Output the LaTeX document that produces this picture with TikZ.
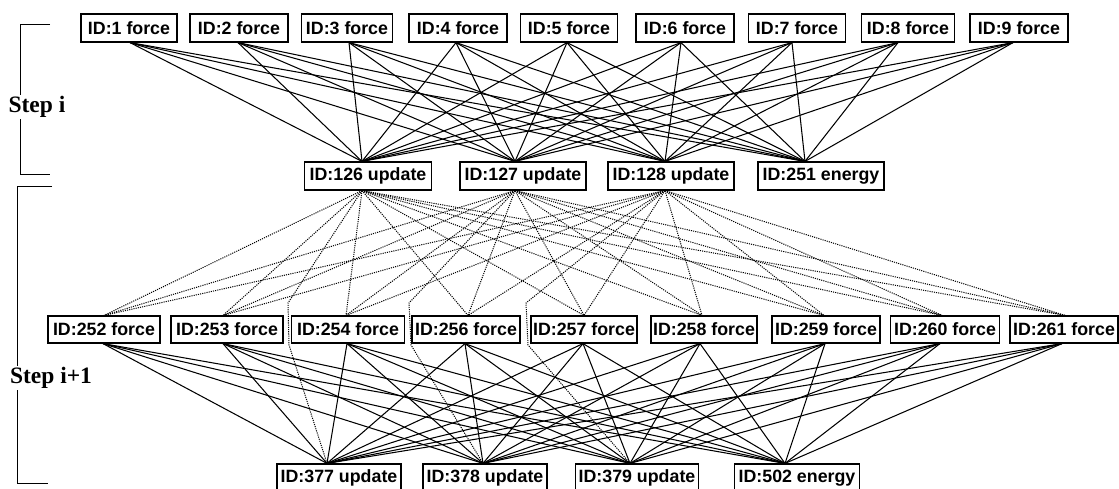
\documentclass[tikz,border=0pt]{standalone}
\usepackage{fontspec}
\newfontfamily\lblfont{Liberation Sans}
\newfontfamily\stepfont{Liberation Serif}
\begin{document}
\begin{tikzpicture}[x=1pt,y=-1pt,
  box/.style={draw, line width=1.2pt, minimum height=28pt, inner sep=0pt,
    font=\lblfont\bfseries\fontsize{17.8}{20}\selectfont},
  solidedge/.style={line width=1.05pt},
  dottededge/.style={line width=1pt, dash pattern=on 1.1pt off 1.1pt},
  bracket/.style={line width=1pt},
  steplabel/.style={fill=white, inner sep=1pt,
    font=\stepfont\bfseries\fontsize{23.5}{26}\selectfont}]
\useasboundingbox (0,0) rectangle (1119,489);

% Step i force nodes
\foreach \i/\x/\w in {1/129/96pt,2/239/98pt,3/347/91pt,4/458/98pt,5/569/97pt,
                      6/685/98pt,7/797/97pt,8/908/93pt,9/1019/98pt}
  \node[box, minimum width=\w] (f\i) at (\x,28) {ID:\i\ force};

% Step i update / energy nodes
\node[box, minimum width=127pt] (m126) at (368,176) {ID:126 update};
\node[box, minimum width=126pt] (m127) at (523,176) {ID:127 update};
\node[box, minimum width=126pt] (m128) at (671,176) {ID:128 update};
\node[box, minimum width=126pt] (m251) at (821,176) {ID:251 energy};

% Step i+1 force nodes
\foreach \i/\x/\w in {252/104/112pt,253/227/112pt,254/348/113pt,256/466/108pt,
                      257/584/106pt,258/704/106pt,259/826/108pt,260/945/109pt,
                      261/1064/108pt}
  \node[box, minimum width=\w, minimum height=27pt] (g\i) at (\x,329.5) {ID:\i\ force};

% Step i+1 update / energy nodes
\node[box, minimum width=124pt] (b377) at (339,478) {ID:377 update};
\node[box, minimum width=124pt] (b378) at (485,478) {ID:378 update};
\node[box, minimum width=123pt] (b379) at (637,478) {ID:379 update};
\node[box, minimum width=125pt] (b502) at (797,478) {ID:502 energy};

% Step i solid edges
\foreach \s/\so in {1/1,2/-1,3/2,4/-2,5/-2,6/-4,7/-5,8/-10,9/-6}
  \foreach \t/\to in {126/-6,127/-8,128/-6,251/-16}
    \draw[solidedge] ([xshift=\so pt]f\s.south) -- ([xshift=\to pt]m\t.north);

% dotted edges from updates to step i+1 forces
\foreach \s/\so in {126/-6,127/-8,128/-6}
  \foreach \t/\to in {252/0,253/-4,254/-2,256/2,257/0,258/-2,259/-2,260/-3,261/1}
    \draw[dottededge] ([xshift=\so pt]m\s.south) -- ([xshift=\to pt]g\t.north);

% dotted edges from updates to next updates (through gaps)
\draw[dottededge] ([xshift=-6pt]m126.south) -- (288,303) -- (289,345) -- ([xshift=-12pt]b377.north);
\draw[dottededge] ([xshift=-8pt]m127.south) -- (409,303) -- (411,345) -- ([xshift=-2pt]b378.north);
\draw[dottededge] ([xshift=-6pt]m128.south) -- (526,303) -- (528,345) -- ([xshift=-7pt]b379.north);

% Step i+1 solid edges
\foreach \s/\so in {252/-1,253/-4,254/-1,256/-1,257/-1,258/-4,259/-1,260/-5,261/-2}
  \foreach \t/\to in {377/-12,378/-2,379/-7,502/-12}
    \draw[solidedge] ([xshift=\so pt]g\s.south) -- ([xshift=\to pt]b\t.north);

% brackets and step labels
\draw[bracket] (50,25) -- (20,25) -- (20,175) -- (50,175);
\node[steplabel] (stepi) at (37,107) {Step i};
\draw[bracket] (52,187) -- (17,187) -- (17,483) -- (48,483);
\node[steplabel] (stepii) at (51,378) {Step i+1};
\end{tikzpicture}
\end{document}
